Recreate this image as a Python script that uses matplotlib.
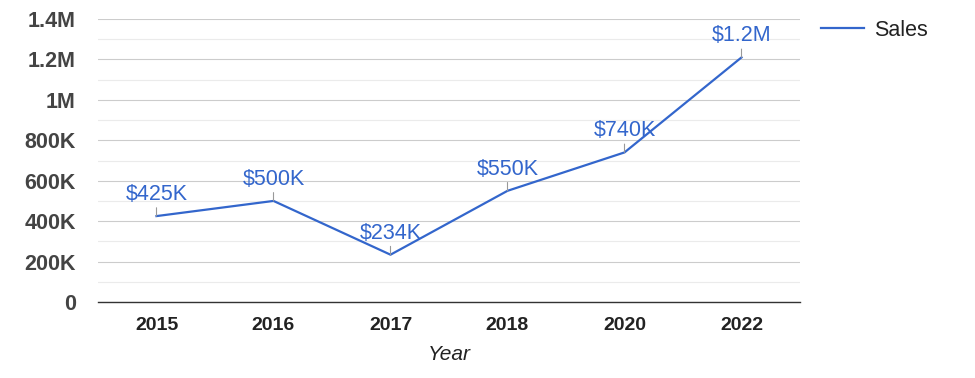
import matplotlib.pyplot as plt

years = ['2015', '2016', '2017', '2018', '2020', '2022']
sales = [425000, 500000, 234000, 550000, 740000, 1210000]
labels = ['$425K', '$500K', '$234K', '$550K', '$740K', '$1.2M']
yticks = [0, 200000, 400000, 600000, 800000, 1000000, 1200000, 1400000]
ytick_labels = ['0', '200K', '400K', '600K', '800K', '1M', '1.2M', '1.4M']

blue = '#3366cc'
plt.rcParams['font.family'] = ['Liberation Sans', 'DejaVu Sans']

fig = plt.figure(figsize=(9.75, 3.78), dpi=100)
ax = fig.add_axes([98/975, 1 - 302/378, 702/975, 283/378])

x = range(len(years))
line, = ax.plot(x, sales, color=blue, linewidth=1.6, label='Sales', zorder=3)

# data labels with small stems
for i, (v, lab) in enumerate(zip(sales, labels)):
    ax.annotate(lab, xy=(i, v), xytext=(0, 8), textcoords='offset points',
                ha='center', va='bottom', color=blue, fontsize=15.5,
                arrowprops=dict(arrowstyle='-', color='#999999', lw=0.8,
                                shrinkA=0, shrinkB=0, relpos=(0.5, 0.15)),
                zorder=4)

ax.set_xlim(-0.5, len(years) - 0.5)
ax.set_ylim(0, 1400000)
ax.set_xticks(list(x))
ax.set_xticklabels(years, fontsize=14, fontweight='bold', color='#222222')
ax.set_yticks(yticks)
ax.set_yticklabels(ytick_labels, fontsize=15.5, fontweight='bold', color='#444444')
ax.set_yticks(range(100000, 1400000, 200000), minor=True)

ax.grid(axis='y', which='major', color='#cccccc', linewidth=0.8)
ax.grid(axis='y', which='minor', color='#ebebeb', linewidth=0.8)
ax.set_axisbelow(True)
ax.tick_params(axis='both', which='both', length=0)
ax.tick_params(axis='y', pad=16)
ax.tick_params(axis='x', pad=11)

for s in ['top', 'right', 'left']:
    ax.spines[s].set_visible(False)
ax.spines['bottom'].set_color('#333333')
ax.spines['bottom'].set_linewidth(1)

ax.set_xlabel('Year', fontsize=15, style='italic', color='#222222', labelpad=8)

fig.legend(handles=[line], loc='center left', bbox_to_anchor=(802/975, 1 - 30/378),
           frameon=False, fontsize=15.5, handlelength=2.0, handletextpad=0.45,
           labelcolor='#222222')

fig.savefig('out.png', dpi=100)
